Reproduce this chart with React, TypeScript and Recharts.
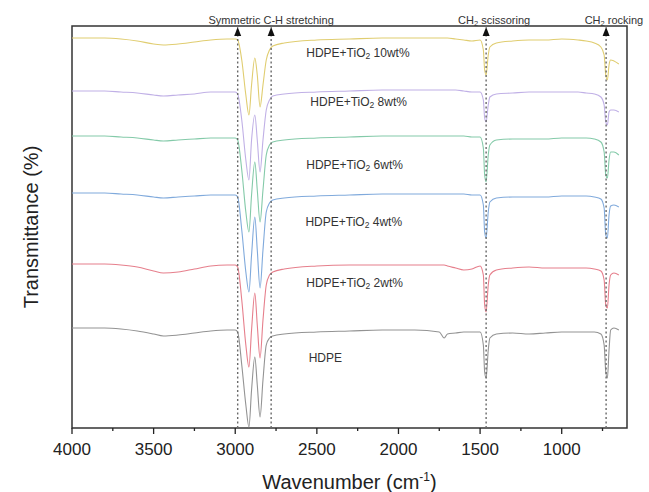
import React from 'react'
import {
  LineChart,
  Line,
  XAxis,
  YAxis,
  ReferenceLine,
  ReferenceDot,
  ReferenceArea,
} from 'recharts'

// FTIR spectra, stacked (arbitrary transmittance units, offset per sample)
const wavenumbers = [
  4000, 3800, 3700, 3600, 3500, 3440, 3350, 3250, 3150, 3050, 3000, 2985,
  2960, 2935, 2916, 2900, 2880, 2865, 2848, 2830, 2810, 2790, 2770,
  2700, 2500, 2300, 2100, 1900, 1750, 1720, 1700, 1650, 1600, 1550, 1500,
  1480, 1472, 1463, 1450, 1440,
  1400, 1300, 1200, 1100, 1000, 900, 850, 800,
  760, 740, 730, 720, 710, 700, 680, 650,
]

const tio2_10 = [
  390, 390, 389, 387, 384, 383, 384, 386, 388, 389, 389, 388,
  368, 333, 313, 343, 370, 353, 321, 343, 368, 378, 382,
  385, 388, 389, 390, 390, 390, 390, 390, 389, 388, 387, 388,
  378, 358, 353, 373, 381,
  385, 387, 388, 388, 389, 388, 387, 385,
  381, 373, 353, 348, 363, 368, 367, 364,
]

const tio2_8 = [
  337, 337, 336, 335, 333, 332, 333, 334, 336, 336, 336, 334,
  308, 268, 248, 288, 313, 288, 256, 288, 318, 328, 332,
  334, 336, 337, 338, 338, 338, 338, 338, 338, 337, 336, 336,
  328, 310, 306, 323, 331,
  334, 335, 336, 336, 336, 336, 335, 334,
  331, 323, 306, 303, 316, 318, 318, 316,
]

const tio2_6 = [
  292, 292, 291, 290, 288, 287, 288, 289, 290, 290, 290, 288,
  258, 216, 196, 233, 266, 238, 206, 238, 273, 283, 286,
  288, 290, 291, 292, 292, 292, 292, 292, 292, 292, 291, 291,
  280, 253, 246, 273, 283,
  288, 289, 289, 289, 290, 290, 290, 289,
  286, 276, 253, 250, 268, 276, 276, 273,
]

const tio2_4 = [
  235, 235, 234, 233, 231, 230, 231, 232, 233, 233, 233, 231,
  198, 156, 136, 173, 211, 178, 140, 178, 216, 225, 228,
  230, 232, 233, 234, 234, 234, 234, 234, 234, 234, 233, 233,
  223, 196, 190, 216, 226,
  230, 231, 231, 231, 232, 232, 232, 231,
  229, 220, 193, 190, 213, 222, 223, 221,
]

const tio2_2 = [
  164, 164, 163, 161, 157, 155, 156, 159, 162, 163, 163, 161,
  128, 83, 61, 98, 135, 103, 70, 108, 143, 153, 156,
  159, 162, 163, 163, 163, 163, 163, 162, 160, 158, 159, 162,
  153, 123, 116, 143, 153,
  158, 160, 161, 160, 160, 160, 160, 159,
  157, 148, 123, 120, 143, 153, 155, 153,
]

const hdpe = [
  100, 100, 99, 97, 94, 92, 93, 95, 97, 98, 98, 96,
  63, 23, 1, 38, 71, 43, 11, 48, 83, 90, 92,
  94, 96, 97, 98, 98, 96, 90, 94, 95, 96, 96, 96,
  83, 56, 50, 78, 90,
  94, 95, 94, 95, 96, 96, 96, 96,
  94, 83, 56, 50, 78, 98, 100, 98,
]

const xTicks = [4000, 3750, 3500, 3250, 3000, 2750, 2500, 2250, 2000, 1750, 1500, 1250, 1000, 750]
const bands = [2985, 2780, 1463, 728]

const data = wavenumbers.map((wn, i) => ({
  wn,
  t10: tio2_10[i],
  t8: tio2_8[i],
  t6: tio2_6[i],
  t4: tio2_4[i],
  t2: tio2_2[i],
  hdpe: hdpe[i],
}))

const FONT = '"Liberation Sans", Arial, Helvetica, sans-serif'

const XTick = ({ x, y, payload }: any) => {
  const major = payload.value % 500 === 0
  return (
    <g>
      <line x1={x} x2={x} y1={y} y2={y + (major ? 6 : 3)} stroke="#222" strokeWidth={1.3} />
      {major && (
        <text x={x} y={y + 27} textAnchor="middle" fontSize={17} fill="#222" fontFamily={FONT}>
          {payload.value}
        </text>
      )}
    </g>
  )
}

const XTitle = ({ viewBox }: any) => (
  <text
    x={viewBox.x + viewBox.width / 2}
    y={489}
    textAnchor="middle"
    fontSize={20}
    fill="#222"
    fontFamily={FONT}
  >
    Wavenumber (cm
    <tspan dy={-8} fontSize={12}>-1</tspan>
    <tspan dy={8}>)</tspan>
  </text>
)

const YTitle = ({ viewBox }: any) => {
  const cx = 31
  const cy = viewBox.y + viewBox.height / 2
  return (
    <text
      x={cx}
      y={cy}
      transform={`rotate(-90 ${cx} ${cy})`}
      textAnchor="middle"
      dominantBaseline="central"
      fontSize={20}
      fill="#222"
      fontFamily={FONT}
    >
      Transmittance (%)
    </text>
  )
}

const SeriesLabel = ({ viewBox, pct }: any) => {
  if (!pct) {
    return (
      <text x={viewBox.x} y={viewBox.y} dominantBaseline="central" fontSize={12} fill="#333" fontFamily={FONT}>
        HDPE
      </text>
    )
  }
  return (
    <text x={viewBox.x} y={viewBox.y} dominantBaseline="central" fontSize={12} fill="#333" fontFamily={FONT}>
      HDPE+TiO
      <tspan dy={3} fontSize={8.5}>2</tspan>
      <tspan dy={-3}>{` ${pct}wt%`}</tspan>
    </text>
  )
}

const BandLabel = ({ viewBox, text, sub }: any) => (
  <text
    x={viewBox.x}
    y={viewBox.y}
    textAnchor="middle"
    dominantBaseline="central"
    fontSize={11}
    fill="#333"
    fontFamily={FONT}
  >
    {sub ? (
      <>
        CH
        <tspan dy={3} fontSize={7.5}>2</tspan>
        <tspan dy={-3}>{` ${text}`}</tspan>
      </>
    ) : (
      text
    )}
  </text>
)

const arrowHead = ({ cx, cy }: any) => (
  <polygon points={`${cx},${cy + 1} ${cx - 3.5},${cy + 10} ${cx + 3.5},${cy + 10}`} fill="#111" />
)

export default function App() {
  return (
    <div style={{ position: 'absolute', left: 0, top: 0, background: '#fff' }}>
      <LineChart
        width={649}
        height={492}
        data={data}
        margin={{ top: 26, right: 22, bottom: 0, left: 32 }}
      >
        <XAxis
          dataKey="wn"
          type="number"
          domain={[600, 4000]}
          reversed
          allowDataOverflow
          ticks={xTicks}
          interval={0}
          tick={<XTick />}
          tickLine={false}
          tickSize={0}
          tickMargin={0}
          axisLine={false}
          height={64}
          label={<XTitle />}
        />
        <YAxis
          type="number"
          domain={[0, 402]}
          allowDataOverflow
          tick={false}
          tickLine={false}
          axisLine={false}
          width={40}
          label={<YTitle />}
        />
        <Line type="monotone" dataKey="hdpe" stroke="#939393" strokeWidth={1.1} dot={false} isAnimationActive={false} />
        <Line type="monotone" dataKey="t2" stroke="#e67f8c" strokeWidth={1.1} dot={false} isAnimationActive={false} />
        <Line type="monotone" dataKey="t4" stroke="#80aadc" strokeWidth={1.1} dot={false} isAnimationActive={false} />
        <Line type="monotone" dataKey="t6" stroke="#84caa9" strokeWidth={1.1} dot={false} isAnimationActive={false} />
        <Line type="monotone" dataKey="t8" stroke="#c0b0e6" strokeWidth={1.1} dot={false} isAnimationActive={false} />
        <Line type="monotone" dataKey="t10" stroke="#e0cd70" strokeWidth={1.1} dot={false} isAnimationActive={false} />

        {bands.map((b) => (
          <ReferenceLine key={`l${b}`} x={b} stroke="#6a6a6a" strokeWidth={1.4} strokeDasharray="2 2.5" />
        ))}
        {bands.map((b) => (
          <ReferenceDot key={`a${b}`} x={b} y={402} r={0} ifOverflow="visible" shape={arrowHead} />
        ))}

        <ReferenceArea x1={600} x2={4000} y1={0} y2={402} fill="none" stroke="#333" strokeWidth={1.5} ifOverflow="visible" />

        <ReferenceDot x={2780} y={408} r={0} ifOverflow="visible" label={<BandLabel text="Symmetric C-H stretching" />} />
        <ReferenceDot x={1414} y={408} r={0} ifOverflow="visible" label={<BandLabel text="scissoring" sub />} />
        <ReferenceDot x={680} y={408} r={0} ifOverflow="visible" label={<BandLabel text="rocking" sub />} />

        <ReferenceDot x={2565} y={375} r={0} ifOverflow="visible" label={<SeriesLabel pct="10" />} />
        <ReferenceDot x={2540} y={326} r={0} ifOverflow="visible" label={<SeriesLabel pct="8" />} />
        <ReferenceDot x={2565} y={263} r={0} ifOverflow="visible" label={<SeriesLabel pct="6" />} />
        <ReferenceDot x={2570} y={206} r={0} ifOverflow="visible" label={<SeriesLabel pct="4" />} />
        <ReferenceDot x={2565} y={145} r={0} ifOverflow="visible" label={<SeriesLabel pct="2" />} />
        <ReferenceDot x={2550} y={70} r={0} ifOverflow="visible" label={<SeriesLabel />} />
      </LineChart>
    </div>
  )
}
